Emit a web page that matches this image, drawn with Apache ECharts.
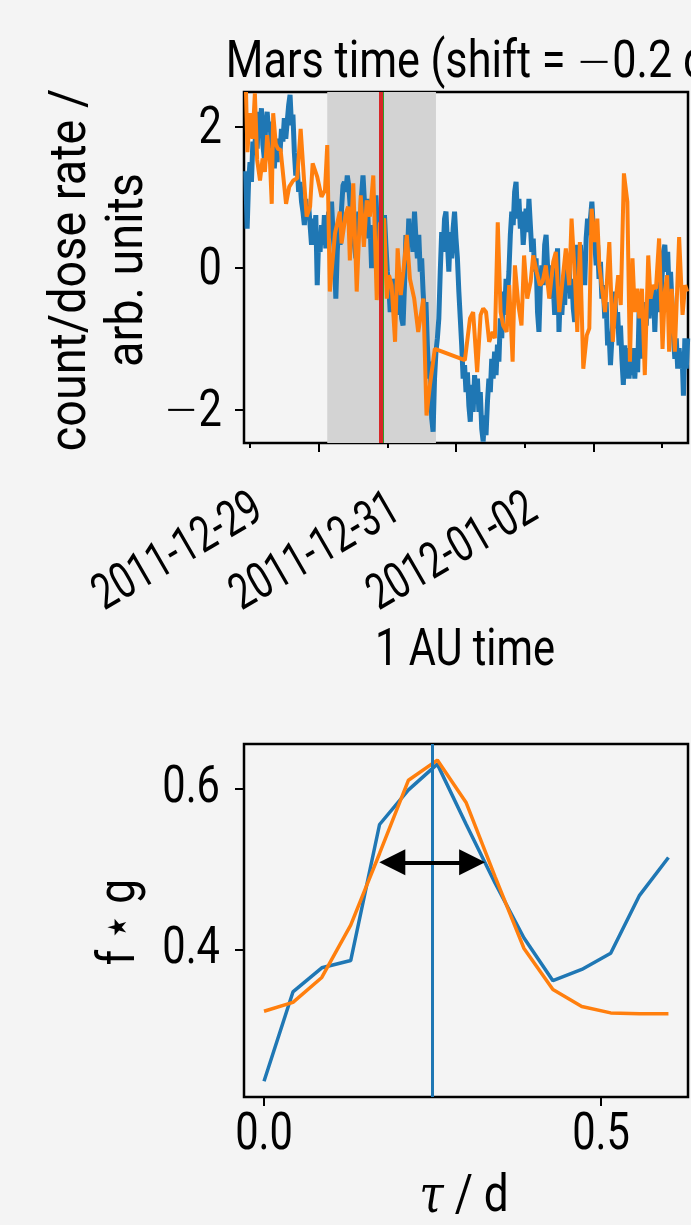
<!DOCTYPE html>
<html>
<head>
<meta charset="utf-8">
<script src="https://cdn.jsdelivr.net/npm/echarts@6/dist/echarts.min.js"></script>
<style>
  html, body { margin: 0; padding: 0; background: #f4f4f4; }
  #chart { width: 691px; height: 1225px; }
</style>
</head>
<body>
<div id="chart"></div>
<script>
// ---- time series (hours counted from 2011-12-29 00:00, 1 AU time) ----
const blueStartHour = -25.5;
const blueStepHours = 0.5;
const blueValues = [
  1.37, 0.56, 1.22, 1.50, 1.22, 1.79, 1.60, 1.93, 1.69, 2.21,
  1.97, 2.26, 1.74, 1.55, 2.02, 2.21, 1.93, 2.07, 1.69, 1.93,
  1.41, 1.74, 1.50, 1.83, 1.64, 1.97, 1.79, 2.12, 1.83, 2.07,
  2.30, 2.45, 2.02, 2.17, 1.64, 1.31, 1.45, 1.08, 1.22, 0.94,
  0.80, 0.61, 0.98, 0.70, 0.89, 0.61, 0.33, 0.70, 0.47, 0.75,
  -0.24, 0.42, 0.23, 0.61, 0.33, 0.75, 0.28, 0.56, 0.80, 0.42,
  0.94, 0.51, 0.23, -0.43, 0.23, 0.61, 0.33, 0.84, 1.17, 1.22,
  1.08, 1.31, 1.17, 0.89, 0.70, 0.51, 0.33, 0.14, 0.47, 0.80,
  0.47, 1.03, 1.31, 0.94, 0.61, 0.98, 0.42, 0.61, 0.00, 0.37,
  0.04, 1.03, 0.61, 0.80, 0.14, 0.56, -0.05, 0.75, 0.33, -0.05,
  -0.24, -0.62, -0.24, -0.48, -0.15, -0.38, -0.24, -0.66, -0.33, -0.71,
  -0.81, -0.24, 0.47, 0.14, 0.70, 0.33, 0.61, 0.23, 0.80, 0.42,
  0.14, 0.47, -0.05, 0.14, -0.33, -0.71, -0.48, -1.09, -1.56, -1.32,
  -2.12, -2.31, -1.56, -1.18, -0.99, -0.71, -0.05, 0.51, 0.23, 0.70,
  0.80, 0.37, -0.05, 0.51, 0.14, 0.56, 0.80, 0.42, 0.14, -0.33,
  -0.71, -1.09, -1.56, -1.37, -1.75, -1.47, -1.94, -2.17, -1.65, -2.03,
  -1.51, -1.84, -1.56, -2.03, -1.75, -2.27, -2.45, -2.08, -2.36, -1.89,
  -1.56, -1.75, -1.28, -1.56, -1.18, -1.51, -1.08, -1.32, -0.71, -0.99,
  -0.33, -0.66, -0.15, -0.43, -0.05, 0.47, 0.80, 0.61, 1.08, 1.22,
  0.70, 0.98, 0.56, 0.80, 0.33, 0.61, 0.84, 0.51, 0.98, 0.61,
  0.23, 0.42, -0.05, 0.14, -0.62, -0.90, -0.24, 0.04, -0.24, 0.33,
  0.47, 0.04, -0.24, 0.04, -0.43, -0.24, -0.66, -0.05, 0.28, -0.90,
  -0.33, -0.66, -0.29, -0.52, 0.09, -0.24, 0.04, -0.43, -0.15, -0.57,
  -0.76, -0.05, 0.33, -0.05, 0.33, -0.15, 0.18, -0.24, 0.42, 0.70,
  0.47, 0.70, 0.94, 0.56, 0.37, 0.04, 0.33, -0.15, 0.09, -0.43,
  -0.24, -0.71, -0.48, -1.09, -0.90, -1.37, -0.99, -0.62, -0.33, -0.85,
  -0.62, -1.09, -0.81, -1.28, -1.65, -1.09, -1.56, -1.13, -1.56, -1.18,
  -1.51, -1.13, -1.56, -1.18, -1.47, -0.62, -1.28, -0.52, -0.90, -0.48,
  -0.81, -0.43, -0.71, -0.33, -0.66, -0.24, -0.90, -0.33, -0.62, -0.19,
  -0.52, -0.15, 0.23, 0.33, -0.05, 0.23, -0.33, -0.05, -0.48, -0.95,
  -1.28, -0.99, -1.42, -1.13, -1.42, -1.18, -1.80, -0.99, -1.42, -0.99
];

const orangeHours = [
  -25.4, -24.9, -24.0, -23.1, -22.3, -21.5, -20.5, -19.6, -18.8, -18.0,
  -17.0, -16.4, -15.9, -15.0, -14.3, -13.3, -11.4, -10.3, -8.9, -7.5,
  -6.3, -5.1, -4.2, -3.0, -2.1, -0.5, 1.0, 2.2, 3.0, 3.9,
  5.7, 7.4, 8.0, 9.5, 10.3, 10.9, 12.1, 13.3, 14.7, 15.8,
  16.8, 17.9, 19.1, 20.3, 21.4, 22.9, 23.8, 24.6, 25.5, 26.7,
  27.6, 28.7, 29.6, 30.8, 31.9, 33.4, 34.8, 36.6, 37.7, 38.9,
  40.6, 51.1, 52.9, 54.0, 55.4, 56.6, 57.5, 58.5, 59.6, 60.8,
  61.6, 62.6, 63.6, 64.5, 65.7, 66.6, 67.8, 68.6, 69.8, 70.9,
  71.8, 72.9, 74.1, 75.0, 76.2, 77.3, 78.3, 79.4, 80.6, 82.0,
  82.9, 84.1, 85.3, 86.4, 87.6, 88.4, 89.6, 90.4, 91.3, 92.5,
  93.7, 94.6, 95.4, 96.6, 97.4, 98.1, 98.9, 100.1, 101.6, 102.8,
  103.9, 104.7, 105.6, 106.7, 107.9, 108.8, 109.7, 110.5, 111.4, 112.1,
  113.0, 114.0, 115.2, 116.0, 116.9, 117.9, 119.0, 120.2, 121.0, 121.8,
  122.5, 123.4, 124.5, 126.0, 127.2, 128.1, 128.8
];
const orangeValues = [
  2.49, 1.64, 2.19, 1.83, 2.47, 1.53, 1.24, 1.55, 1.36, 1.88,
  1.48, 0.91, 2.19, 1.76, 1.69, 1.67, 0.91, 1.15, 1.24, 1.27,
  1.97, 1.24, 0.73, 0.87, 1.48, 1.29, 1.01, 1.10, 1.74, -0.33,
  0.49, 0.80, 0.35, 0.77, 0.87, 0.11, 1.20, -0.33, 1.03, 0.30,
  0.96, 0.73, 1.31, -0.45, 0.63, 0.70, -0.43, -0.10, -0.24, -1.04,
  0.28, -0.38, -0.05, 0.47, -0.15, -0.43, -0.90, -0.43, -2.08, -1.65,
  -1.14, -1.30, -0.71, -0.62, -1.47, -0.66, -0.57, -0.62, -1.04, -0.90,
  -0.99, 0.65, -0.62, -0.81, -0.90, -0.24, -1.32, 0.04, -0.52, -0.81,
  0.18, -0.43, -0.19, 0.18, -0.05, -0.24, -0.19, 0.04, -0.43, 0.09,
  0.23, -0.62, -0.15, 0.28, -0.24, 0.70, -0.15, -0.90, 0.37, -1.42,
  -0.95, -0.85, 0.84, 0.37, 0.70, 0.04, -0.24, -0.62, 0.37, -1.04,
  -0.43, -0.10, -0.52, 1.34, 0.94, -1.32, 0.14, -0.62, -0.29, -0.71,
  -0.29, -1.51, 0.18, -0.43, -0.24, -0.29, 0.42, -1.14, -0.33, -0.10,
  -1.18, -0.29, -1.18, 0.44, -0.66, -0.24, -0.33
];

const eventBand = [3.0, 41.0];
const redLineHour = 21.8;
const greenLineHour = 22.6;
const timeRange = [-26.1, 129.1];
const majorTickHours = [0, 48, 96];
const dateLabels = ['2011-12-29', '2011-12-31', '2012-01-02'];
const minorTickHours = [-24, 24, 72, 120];
const countTicks = [-2, 0, 2];
const countRange = [-2.47, 2.49];

// ---- cross-correlation versus lag ----
const tau = [0, 0.0429, 0.0857, 0.1286, 0.1714, 0.2143, 0.2571, 0.3, 0.3429, 0.3857, 0.4286, 0.4714, 0.5143, 0.5571, 0.6];
const ccBlue = [0.236, 0.347, 0.377, 0.386, 0.555, 0.598, 0.630, 0.555, 0.482, 0.414, 0.361, 0.375, 0.395, 0.467, 0.514];
const ccOrange = [0.323, 0.334, 0.365, 0.430, 0.519, 0.610, 0.635, 0.582, 0.490, 0.401, 0.350, 0.329, 0.321, 0.320, 0.320];
const tauPeak = 0.249;
const widthArrow = { from: 0.171, to: 0.328, level: 0.508 };
const tauTicks = [0, 0.5];
const tauRange = [-0.0297, 0.629];
const ccTicks = [0.4, 0.6];
const ccRange = [0.2165, 0.655];

// ---- styling ----
const FONT = "Roboto, 'Liberation Sans', sans-serif";
const FONT_WEIGHT = 400;
const INK = '#000';
const topGrid = { left: 244, top: 92, width: 444, height: 351 };
const botGrid = { left: 244, top: 744, width: 444, height: 353 };
const tickLine = { color: INK, width: 2 };
const gridStyle = { show: true, borderColor: INK, borderWidth: 2.5, backgroundColor: 'transparent' };
const hiddenLine = { show: false, onZero: false };

// the minus sign is set in a face whose minus is as wide as a digit
const minusRich = { m: { fontSize: 52, fontFamily: "'DejaVu Sans', sans-serif", fontWeight: 300, fill: INK } };
const minusFmt = v => (v < 0 ? '{m|\u2212}' : '') + Math.abs(v);

const bluePoints = blueValues.map((v, i) => [blueStartHour + i * blueStepHours, v]);
const orangePoints = orangeHours.map((h, i) => [h, orangeValues[i]]);
const ccBluePoints = tau.map((t, i) => [t, ccBlue[i]]);
const ccOrangePoints = tau.map((t, i) => [t, ccOrange[i]]);

// arrow heads are centred on the line ends, so pull the ends in by half a head
const headPx = 26;
const halfHead = (headPx / 2) * (tauRange[1] - tauRange[0]) / botGrid.width;

// a condensed look: the sans face is squeezed along its baseline
function txt(text, x, y, o) {
  o = o || {};
  return {
    type: 'text', x: x, y: y, silent: true,
    rotation: o.rotation || 0, scaleX: o.squeeze || 0.8, scaleY: 1,
    style: Object.assign({
      text: text, fontSize: o.size || 52, fontFamily: FONT, fontWeight: FONT_WEIGHT,
      fill: INK, align: o.align || 'center', verticalAlign: o.valign || 'middle'
    }, o.style || {})
  };
}

const chart = echarts.init(document.getElementById('chart'), null, { renderer: 'canvas' });

chart.setOption({
  backgroundColor: '#f4f4f4',
  animation: false,
  grid: [
    Object.assign({}, topGrid, gridStyle),
    Object.assign({}, botGrid, gridStyle)
  ],
  xAxis: [
    {
      gridIndex: 0, type: 'value', position: 'bottom',
      min: timeRange[0], max: timeRange[1],
      axisLine: hiddenLine, splitLine: { show: false }, axisLabel: { show: false },
      axisTick: { show: true, customValues: majorTickHours, length: 9, lineStyle: tickLine }
    },
    {
      gridIndex: 0, type: 'value', position: 'bottom',
      min: timeRange[0], max: timeRange[1],
      axisLine: hiddenLine, splitLine: { show: false }, axisLabel: { show: false },
      axisTick: { show: true, customValues: minorTickHours, length: 5, lineStyle: tickLine }
    },
    {
      gridIndex: 1, type: 'value', position: 'bottom',
      min: tauRange[0], max: tauRange[1],
      axisLine: hiddenLine, splitLine: { show: false }, axisLabel: { show: false },
      axisTick: { show: true, customValues: tauTicks, length: 9, lineStyle: tickLine }
    }
  ],
  yAxis: [
    {
      gridIndex: 0, type: 'value', position: 'left',
      min: countRange[0], max: countRange[1],
      axisLine: hiddenLine, splitLine: { show: false }, axisLabel: { show: false },
      axisTick: { show: true, customValues: countTicks, length: 9, lineStyle: tickLine }
    },
    {
      gridIndex: 1, type: 'value', position: 'left',
      min: ccRange[0], max: ccRange[1],
      axisLine: hiddenLine, splitLine: { show: false }, axisLabel: { show: false },
      axisTick: { show: true, customValues: ccTicks, length: 9, lineStyle: tickLine }
    }
  ],
  series: [
    {
      type: 'line', xAxisIndex: 0, yAxisIndex: 0, data: bluePoints,
      showSymbol: false, silent: true, z: 2,
      lineStyle: { color: '#1f77b4', width: 5 }
    },
    {
      type: 'line', xAxisIndex: 0, yAxisIndex: 0, data: orangePoints,
      showSymbol: false, silent: true, z: 3,
      lineStyle: { color: '#ff7f0e', width: 4 },
      markArea: {
        silent: true, itemStyle: { color: '#d3d3d3' },
        data: [[{ xAxis: eventBand[0] }, { xAxis: eventBand[1] }]]
      },
      markLine: {
        silent: true, symbol: 'none', label: { show: false },
        data: [
          { xAxis: redLineHour, lineStyle: { color: '#d62728', width: 4, type: 'solid' } },
          { xAxis: greenLineHour, lineStyle: { color: '#2ca02c', width: 1, type: 'solid' } }
        ]
      }
    },
    {
      type: 'line', xAxisIndex: 2, yAxisIndex: 1, data: ccBluePoints,
      showSymbol: false, silent: true, z: 2,
      lineStyle: { color: '#1f77b4', width: 3.5 },
      markLine: {
        silent: true, symbol: 'none', label: { show: false },
        data: [{ xAxis: tauPeak, lineStyle: { color: '#1f77b4', width: 3, type: 'solid' } }]
      }
    },
    {
      type: 'line', xAxisIndex: 2, yAxisIndex: 1, data: ccOrangePoints,
      showSymbol: false, silent: true, z: 3,
      lineStyle: { color: '#ff7f0e', width: 3.5 },
      markLine: {
        silent: true, symbol: ['triangle', 'triangle'], symbolSize: [headPx, headPx],
        label: { show: false },
        lineStyle: { color: INK, width: 4, type: 'solid' },
        itemStyle: { color: INK },
        data: [[
          { coord: [widthArrow.from + halfHead, widthArrow.level] },
          { coord: [widthArrow.to - halfHead, widthArrow.level] }
        ]]
      }
    }
  ]
});

// tick labels, placed through the axes' own scales
const xTop = v => chart.convertToPixel({ xAxisIndex: 0 }, v);
const yTop = v => chart.convertToPixel({ yAxisIndex: 0 }, v);
const xBot = v => chart.convertToPixel({ xAxisIndex: 2 }, v);
const yBot = v => chart.convertToPixel({ yAxisIndex: 1 }, v);
const topAxisY = topGrid.top + topGrid.height;
const botAxisY = botGrid.top + botGrid.height;

const labels = [];
countTicks.forEach(v => labels.push(
  txt(minusFmt(v), topGrid.left - 22, yTop(v) + 3, { align: 'right', style: { rich: minusRich } })
));
ccTicks.forEach(v => labels.push(
  txt(v.toFixed(1), botGrid.left - 24, yBot(v) + 1, { align: 'right' })
));
tauTicks.forEach(v => labels.push(
  txt(v.toFixed(1), xBot(v), botAxisY + 39, {})
));
majorTickHours.forEach((h, i) => labels.push(
  txt(dateLabels[i], xTop(h) - 221, topAxisY + 157, {
    align: 'left', rotation: Math.PI / 6, size: 50, squeeze: 0.74
  })
));

// titles
labels.push(txt('Mars time (shift = {m|\u2212}0.2 d)', 474, 64, { squeeze: 0.83, style: { rich: minusRich } }));
labels.push(txt('count/dose rate /\narb. units', 100, 270, {
  rotation: Math.PI / 2, squeeze: 0.9, style: { lineHeight: 57 }
}));
labels.push(txt('1 AU time', 465, 652, { squeeze: 0.8 }));
labels.push(txt('f\u2009\u22c6\u2009g', 121, 922, { rotation: Math.PI / 2, squeeze: 0.85 }));
labels.push(txt('{t|\u03c4} / d', 464, 1198, {
  squeeze: 0.85,
  style: { rich: { t: { fontSize: 52, fontFamily: "'DejaVu Serif', serif", fontStyle: 'italic', fill: INK } } }
}));

chart.setOption({ graphic: labels });
</script>
</body>
</html>
